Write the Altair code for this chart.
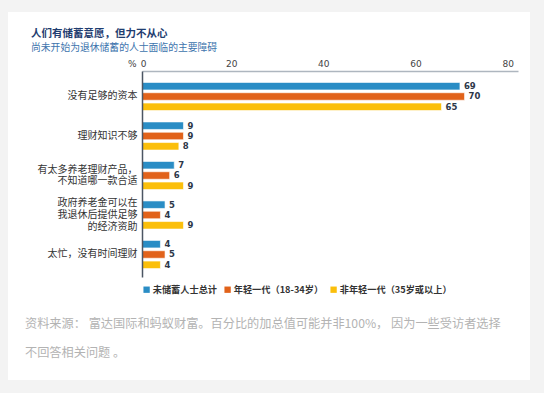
import altair as alt
import pandas as pd

categories = [
    "没有足够的资本",
    "理财知识不够",
    "有太多养老理财产品，\n不知道哪一款合适",
    "政府养老金可以在\n我退休后提供足够\n的经济资助",
    "太忙，没有时间理财",
]
series = ["未储蓄人士总计", "年轻一代（18-34岁）", "非年轻一代（35岁或以上）"]
total = [69, 9, 7, 5, 4]
young = [70, 9, 6, 4, 5]
older = [65, 8, 9, 9, 4]
colors = ["#2a8dc5", "#e1621a", "#fbbf0b"]
x_ticks = [0, 20, 40, 60, 80]

title_text = "人们有储蓄意愿，但力不从心"
subtitle_text = "尚未开始为退休储蓄的人士面临的主要障碍"
footer_line1 = "资料来源： 富达国际和蚂蚁财富。百分比的加总值可能并非100%， 因为一些受访者选择"
footer_line2 = "不回答相关问题 。"

rows = []
for s, vals in zip(series, [total, young, older]):
    for c, v in zip(categories, vals):
        rows.append({"category": c, "series": s, "value": v})
df = pd.DataFrame(rows)

FONT = "Noto Sans CJK SC"

W, H = 376, 206
PAD_L, PAD_T = 142, 71
LH = 11.7

yscale = alt.Scale(domain=categories, paddingInner=0, paddingOuter=0.1076, align=0.676)
yoff = alt.Scale(domain=series, paddingInner=0.272, paddingOuter=0.553)
xscale = alt.Scale(domain=[0, 81.6], nice=False)

base = alt.Chart(df)

x_label_offset = {
    "condition": {"test": "datum.value == 0", "value": 1},
    "value": -3,
}
y_label_offset = {
    "condition": [
        {"test": "length(split(datum.value, '\\n')) == 3", "value": -LH},
        {"test": "length(split(datum.value, '\\n')) == 2", "value": -LH / 2},
    ],
    "value": 0,
}

bars = base.mark_bar(stroke="white", strokeWidth=0.6).encode(
    x=alt.X("value:Q", scale=xscale,
            axis=alt.Axis(orient="top", values=x_ticks, title=None, grid=False,
                          ticks=False, domainColor="#aeb6bf", domainWidth=1.5,
                          labelColor="#444", labelFont="DejaVu Sans", labelFontSize=9,
                          labelPadding=3, labelFlush=False, labelOffset=x_label_offset,
                          zindex=2)),
    y=alt.Y("category:N", scale=yscale, sort=categories,
            axis=alt.Axis(title=None, ticks=False, domainColor="#4b5563", domainWidth=1.5,
                          labelExpr="split(datum.label, '\\n')", labelFont=FONT,
                          labelFontSize=10, labelColor="#333", labelPadding=5,
                          labelLimit=300, labelLineHeight=LH,
                          labelOffset=y_label_offset, zindex=2)),
    yOffset=alt.YOffset("series:N", scale=yoff, sort=series),
    color=alt.Color("series:N", scale=alt.Scale(domain=series, range=colors),
                    legend=alt.Legend(orient="none", legendX=0, legendY=214,
                                      direction="horizontal", title=None,
                                      symbolType="square", symbolSize=40,
                                      symbolStrokeWidth=0, labelFont=FONT,
                                      labelFontSize=9.2, labelFontWeight="bold",
                                      labelColor="#333", labelOffset=1.5,
                                      columnPadding=5, labelLimit=300)),
)

labels = base.mark_text(align="left", baseline="middle", dx=4, font="DejaVu Sans",
                        fontSize=8.5, fontWeight="bold", color="#2d3748").encode(
    x=alt.X("value:Q", scale=xscale),
    y=alt.Y("category:N", scale=yscale, sort=categories),
    yOffset=alt.YOffset("series:N", scale=yoff, sort=series),
    text="value:Q",
)

one = pd.DataFrame({"a": [0]})

card = alt.Chart(one).mark_rect(color="white").encode(
    x=alt.value(-134), x2=alt.value(388), y=alt.value(-59), y2=alt.value(309)
)


def text_layer(txt, x, y, **kw):
    return alt.Chart(pd.DataFrame({"t": [txt]})).mark_text(
        align="left", baseline="middle", **kw).encode(
        text="t:N", x=alt.value(x - PAD_L), y=alt.value(y - PAD_T))


title = text_layer(title_text, 31, 34, font=FONT, fontSize=10.5, fontWeight="bold",
                   color="#1f3d70")
subtitle = text_layer(subtitle_text, 31, 48, font=FONT, fontSize=9.8, color="#3d74ad")
pct = text_layer("%", 128, 64, font="DejaVu Sans", fontSize=9, color="#444")
foot1 = text_layer(footer_line1, 25, 324, font=FONT, fontSize=12.2, color="#b3b3b3")
foot2 = text_layer(footer_line2, 25, 353, font=FONT, fontSize=12.2, color="#b3b3b3")

chart = alt.layer(card, bars, labels, title, subtitle, pct, foot1, foot2).properties(
    width=W, height=H,
    autosize=alt.AutoSizeParams(type="none"),
    padding={"left": PAD_L, "top": PAD_T, "right": 544 - PAD_L - W, "bottom": 393 - PAD_T - H},
    background="#f3f3f3",
).configure_view(stroke=None)

chart.save("out.html", embed_options={"renderer": "svg", "actions": False})
